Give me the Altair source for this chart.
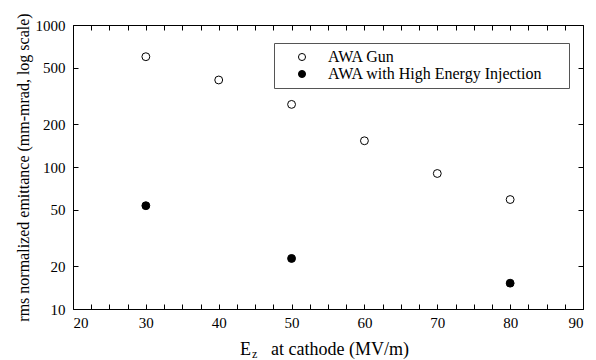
import altair as alt
import pandas as pd

# ---- data ----
gun_x = [30, 40, 50, 60, 70, 80]
gun_y = [598, 410, 276, 153, 90, 59]
hei_x = [30, 50, 80]
hei_y = [53.4, 22.7, 15.2]
series_names = ["AWA Gun", "AWA with High Energy Injection"]

x_ticks = [20 + 2.5 * i for i in range(29)]
y_ticks = [10, 20, 50, 100, 200, 500, 1000]

df = pd.DataFrame(
    {
        "Ez": gun_x + hei_x,
        "emit": gun_y + hei_y,
        "series": [series_names[0]] * len(gun_x) + [series_names[1]] * len(hei_x),
    }
)

FONT = "Liberation Serif"
W, H = 510, 284

xs = alt.Scale(domain=[20, 90], nice=False, zero=False)
ys = alt.Scale(type="log", domain=[10, 1000], nice=False)

common_axis = dict(
    domain=False, grid=False, offset=-5, tickSize=5, tickColor="black",
    labelFont=FONT, labelFontSize=15, labelColor="black",
)

base = alt.Chart(df)

points = base.mark_point(shape="circle", filled=True, size=62, stroke="black",
                         strokeWidth=1, opacity=1).encode(
    x=alt.X("Ez:Q", scale=xs,
            axis=alt.Axis(orient="bottom", values=x_ticks, title=None,
                          labelExpr="datum.value % 10 == 0 ? datum.label : ''",
                          labelPadding=6, **common_axis)),
    y=alt.Y("emit:Q", scale=ys,
            axis=alt.Axis(orient="left", values=y_ticks, format="d",
                          title="rms normalized emittance (mm-mrad,  log  scale)",
                          titleFont=FONT, titleFontSize=16, titleFontWeight="normal",
                          titleColor="black", titleX=-55, titleY=H / 2,
                          titleBaseline="middle",
                          labelPadding=8, **common_axis)),
    fill=alt.Fill("series:N",
                  scale=alt.Scale(domain=series_names, range=["white", "black"]),
                  legend=alt.Legend(
                      title=None, orient="none", legendX=201, legendY=18,
                      strokeColor="#555", fillColor="white", padding=6,
                      labelFont=FONT, labelFontSize=16, labelColor="black",
                      symbolType="circle", symbolSize=50,
                      symbolStrokeColor="black", symbolStrokeWidth=1,
                      symbolOffset=14, labelOffset=18, rowPadding=1,
                      labelExpr="datum.label + '\u00a0\u00a0\u2800'",
                      labelLimit=400,
                  )),
)

mirror = base.mark_point(opacity=0).encode(
    x=alt.X("Ez:Q", scale=xs,
            axis=alt.Axis(orient="top", values=x_ticks, labels=False, title=None,
                          **common_axis)),
    y=alt.Y("emit:Q", scale=ys,
            axis=alt.Axis(orient="right", values=y_ticks, labels=False, title=None,
                          **common_axis)),
)

t_E = alt.Chart(pd.DataFrame({"t": ["E"]})).mark_text(
    font=FONT, fontSize=18, align="left", baseline="alphabetic", color="black"
).encode(text="t:N", x=alt.value(167), y=alt.value(330))
t_z = alt.Chart(pd.DataFrame({"t": ["z"]})).mark_text(
    font=FONT, fontSize=12, align="left", baseline="alphabetic", color="black"
).encode(text="t:N", x=alt.value(179), y=alt.value(333))
t_rest = alt.Chart(pd.DataFrame({"t": ["at cathode (MV/m)"]})).mark_text(
    font=FONT, fontSize=18, align="left", baseline="alphabetic", color="black"
).encode(text="t:N", x=alt.value(198), y=alt.value(330))

chart = (
    alt.layer(points, mirror, t_E, t_z, t_rest)
    .resolve_scale(x="independent", y="independent")
    .properties(
        width=W, height=H,
        autosize=alt.AutoSizeParams(type="none"),
        padding={"left": 65, "top": 17, "right": 5, "bottom": 55},
        background="white",
    )
    .configure(font=FONT)
    .configure_view(stroke="black", strokeWidth=1)
)

chart.save("out.html", embed_options={"renderer": "svg", "actions": False})
